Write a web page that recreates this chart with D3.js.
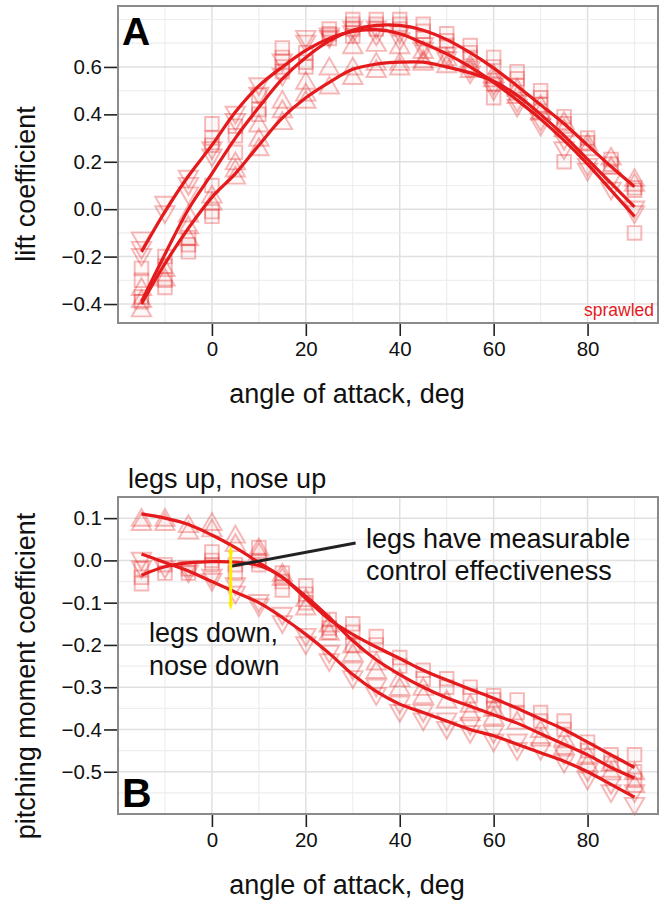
<!DOCTYPE html>
<html>
<head>
<meta charset="utf-8">
<script src="https://cdn.jsdelivr.net/npm/d3@7"></script>
<style>
  html, body { margin: 0; padding: 0; background: #fff; }
  svg { display: block; font-family: "Liberation Sans", Arial, Helvetica, sans-serif; }
</style>
</head>
<body>
<svg id="chart" width="662" height="901"></svg>
<script>
// ---------------- DATA ----------------
const aoa = [-15,-10,-5,0,5,10,15,20,25,30,35,40,45,50,55,60,65,70,75,80,85,90];
const xTicks = [0,20,40,60,80];
const liftTicks = [-0.4,-0.2,0.0,0.2,0.4,0.6];
const pitchTicks = [-0.5,-0.4,-0.3,-0.2,-0.1,0.0,0.1];

// Panel A — lift coefficient, replicate points per angle
const liftSquares = [
  [-0.25,-0.30,-0.37,-0.39],[-0.20,-0.24,-0.30,-0.33],[-0.12,-0.15,-0.18],[0.36,0.30,0.27,0.10,-0.01,-0.03],
  [0.35,0.31,0.24],[0.48,0.42,0.40],[0.68,0.64,0.60,0.58],[0.66,0.62,0.60],[0.76,0.74,0.72],
  [0.80,0.78,0.76,0.73],[0.80,0.78,0.76],[0.80,0.78,0.76],[0.78,0.75,0.72],[0.74,0.71,0.69],
  [0.69,0.66,0.64],[0.64,0.60,0.53,0.47],[0.58,0.55,0.52],[0.50,0.47,0.44],[0.39,0.36,0.20],
  [0.30,0.28],[0.21,0.19],[0.09,0.08,-0.10]
];
const liftDown = [
  [-0.13,-0.17,-0.20],[0.02,-0.02],[0.13,0.10,0.06],[0.25,0.22],[0.40,0.37],[0.52,0.48],[0.62,0.56],
  [0.72,0.70],[0.73,0.72],[0.76,0.74],[0.76,0.73],[0.74,0.71],[0.69,0.67],[0.65,0.63],[0.59,0.57],
  [0.52,0.50],[0.45,0.43],[0.37,0.35],[0.29,0.25],[0.18,0.16],[0.12,0.08],[0.00,-0.02]
];
const liftUp = [
  [-0.33,-0.38,-0.42],[-0.25,-0.29],[-0.02,-0.07,-0.12],[0.06,0.03],[0.20,0.17,0.14],[0.36,0.30,0.26],
  [0.46,0.42,0.37],[0.54,0.49,0.46],[0.60,0.52],[0.69,0.60,0.56],[0.70,0.62,0.59],[0.69,0.62,0.60],
  [0.67,0.63,0.62],[0.64,0.61],[0.61,0.59],[0.57,0.55],[0.51,0.48],[0.44,0.41],[0.37,0.34],
  [0.28,0.26],[0.22,0.18],[0.13,0.11]
];
// Panel A fitted curves
const liftFitSquares = [-0.39,-0.19,0.00,0.15,0.30,0.43,0.55,0.64,0.71,0.755,0.775,0.775,0.755,0.715,0.66,0.595,0.52,0.44,0.36,0.27,0.18,0.095];
const liftFitDown    = [-0.18,-0.01,0.14,0.27,0.41,0.52,0.60,0.67,0.72,0.75,0.757,0.74,0.70,0.655,0.60,0.535,0.46,0.38,0.29,0.19,0.08,-0.03];
const liftFitUp      = [-0.40,-0.23,-0.08,0.05,0.15,0.27,0.385,0.47,0.535,0.59,0.612,0.62,0.62,0.60,0.575,0.54,0.48,0.40,0.31,0.21,0.11,0.01];

// Panel B — pitching moment coefficient
const pitchSquares = [
  [-0.02,-0.04,-0.055],[-0.01,-0.03],[-0.02,-0.03],[0.02,0.00,-0.01],[-0.01,-0.03],[0.03,0.00,-0.01],
  [-0.03,-0.05,-0.07],[-0.06,-0.08,-0.10],[-0.14,-0.16,-0.17],[-0.15,-0.17,-0.20],[-0.18,-0.20],
  [-0.23,-0.25],[-0.26,-0.28],[-0.28,-0.30],[-0.30,-0.32],[-0.32,-0.33,-0.35],[-0.33,-0.36],
  [-0.36,-0.38],[-0.38,-0.40],[-0.43,-0.45],[-0.46,-0.48],[-0.46,-0.50,-0.52]
];
const pitchDown = [
  [0.00,-0.02],[-0.02],[-0.02,-0.03],[-0.04,-0.05],[-0.06,-0.08],[-0.10,-0.11],[-0.13,-0.15],
  [-0.18,-0.20],[-0.22,-0.24],[-0.26,-0.28],[-0.30,-0.32],[-0.34,-0.36],[-0.36,-0.38],[-0.38,-0.40],
  [-0.39,-0.41],[-0.41,-0.43],[-0.43,-0.45],[-0.45],[-0.46,-0.48],[-0.50,-0.52],[-0.53,-0.55],[-0.55,-0.58]
];
const pitchUp = [
  [0.10,0.09],[0.10,0.09],[0.085,0.07],[0.09,0.075],[0.06,0.04],[0.03,0.02],[-0.03,-0.04],
  [-0.09,-0.11],[-0.15,-0.17],[-0.20,-0.22],[-0.24,-0.26],[-0.28,-0.30],[-0.30,-0.32],[-0.33],
  [-0.34,-0.36],[-0.35,-0.37],[-0.38],[-0.40,-0.42],[-0.42,-0.44],[-0.46,-0.48],[-0.48,-0.50],[-0.50,-0.53]
];
const pitchFitSquares = [-0.035,-0.015,-0.006,-0.003,-0.004,-0.012,-0.04,-0.09,-0.14,-0.175,-0.205,-0.232,-0.26,-0.283,-0.305,-0.326,-0.35,-0.375,-0.40,-0.43,-0.46,-0.49];
const pitchFitUp      = [0.11,0.10,0.085,0.06,0.03,-0.005,-0.04,-0.085,-0.135,-0.19,-0.235,-0.27,-0.30,-0.325,-0.345,-0.365,-0.385,-0.41,-0.435,-0.46,-0.49,-0.515];
const pitchFitDown    = [0.015,-0.005,-0.025,-0.05,-0.075,-0.10,-0.135,-0.175,-0.22,-0.27,-0.31,-0.34,-0.36,-0.38,-0.40,-0.415,-0.435,-0.455,-0.475,-0.50,-0.53,-0.56];

// Annotation anchors (data coordinates of panel B)
const yellowMark = {x: 4, y0: 0.036, y1: -0.118};
const pointerLine = {x0: 4, y0: -0.014, x1: 30.6, y1: 0.041};

// ---------------- DRAWING ----------------
const svg = d3.select("#chart");
const RED = "#e41a1c";
const panelLeft = 118, panelRight = 658;
const TICK_FS = 20.5, TITLE_FS = 27, ANN_FS = 27;

const x = d3.scaleLinear().domain([-20, 95]).range([panelLeft, panelRight]);

function panel(cfg) {
  const g = svg.append("g");
  const y = d3.scaleLinear().domain(cfg.yDomain).range([cfg.bottom, cfg.top]);

  // grid (minor then major)
  const xMinor = d3.range(-20, 96, 10).filter(v => v % 20 !== 0);
  const xMajor = d3.range(-20, 96, 20);
  const yGrid = d3.range(Math.ceil(cfg.yDomain[0] / cfg.minorStep) * cfg.minorStep, cfg.yDomain[1] + 1e-9, cfg.minorStep);
  const isMajorY = d => cfg.yTicks.some(t => Math.abs(t - d) < 1e-6);
  g.selectAll(".gx").data(xMinor.concat(xMajor)).enter().append("line")
    .attr("x1", d => x(d)).attr("x2", d => x(d)).attr("y1", cfg.top).attr("y2", cfg.bottom)
    .attr("stroke", d => xMajor.includes(d) ? "#e0e0e0" : "#eeeeee").attr("stroke-width", d => xMajor.includes(d) ? 1.5 : 1.2);
  g.selectAll(".gy").data(yGrid).enter().append("line")
    .attr("x1", panelLeft).attr("x2", panelRight).attr("y1", d => y(d)).attr("y2", d => y(d))
    .attr("stroke", d => isMajorY(d) ? "#e0e0e0" : "#eeeeee")
    .attr("stroke-width", d => isMajorY(d) ? 1.5 : 1.2);

  // points
  const shapes = [
    {data: cfg.squares, type: d3.symbolSquare, size: 185, rot: 0, dy: 0},
    {data: cfg.up, type: d3.symbolTriangle, size: 165, rot: 0, dy: 2},
    {data: cfg.down, type: d3.symbolTriangle, size: 165, rot: 180, dy: -2}
  ];
  shapes.forEach(s => {
    const pts = [];
    s.data.forEach((vals, i) => vals.forEach(v => pts.push([aoa[i], v])));
    g.selectAll(null).data(pts).enter().append("path")
      .attr("d", d3.symbol().type(s.type).size(s.size))
      .attr("transform", d => `translate(${x(d[0])},${y(d[1]) + s.dy}) rotate(${s.rot})`)
      .attr("fill", RED).attr("fill-opacity", 0.03)
      .attr("stroke", RED).attr("stroke-opacity", 0.3).attr("stroke-width", 1.9);
  });

  // fitted curves
  const line = d3.line().x((d, i) => x(aoa[i])).y(d => y(d)).curve(d3.curveCatmullRom.alpha(0.5));
  cfg.fits.forEach(f => {
    g.append("path").attr("d", line(f)).attr("fill", "none").attr("stroke", RED).attr("stroke-width", 3.2);
  });

  // border
  g.append("rect").attr("x", panelLeft).attr("y", cfg.top).attr("width", panelRight - panelLeft).attr("height", cfg.bottom - cfg.top)
    .attr("fill", "none").attr("stroke", "#8a8a8a").attr("stroke-width", 2);

  // axes
  const yAxis = d3.axisLeft(y).tickValues(cfg.yTicks).tickFormat(cfg.fmt).tickSize(13).tickPadding(2);
  const ya = g.append("g").attr("transform", `translate(${panelLeft - 1},0)`).call(yAxis);
  ya.select(".domain").remove();
  ya.selectAll("line").attr("stroke", "#222").attr("stroke-width", 1.6);
  ya.selectAll("text").attr("font-size", TICK_FS).attr("fill", "#111").attr("font-family", "Liberation Sans, Arial, sans-serif");

  const xAxis = d3.axisBottom(x).tickValues(xTicks).tickFormat(d3.format("d")).tickSize(12).tickPadding(5);
  const xa = g.append("g").attr("transform", `translate(0,${cfg.bottom + 1})`).call(xAxis);
  xa.select(".domain").remove();
  xa.selectAll("line").attr("stroke", "#222").attr("stroke-width", 1.6);
  xa.selectAll("text").attr("font-size", TICK_FS).attr("fill", "#111").attr("font-family", "Liberation Sans, Arial, sans-serif");

  // axis titles
  g.append("text").attr("x", 347).attr("y", cfg.bottom + 80).attr("text-anchor", "middle")
    .attr("font-size", TITLE_FS).attr("fill", "#111").text("angle of attack, deg");
  g.append("text").attr("transform", `translate(35,${cfg.titleY}) rotate(-90)`)
    .attr("text-anchor", "middle").attr("font-size", TITLE_FS).attr("fill", "#111").text(cfg.yTitle);

  return {g, y};
}

const fmt = d => d3.format(".1f")(d).replace("-", "\u2212");

// Panel A
const A = panel({
  top: 6, bottom: 323, yDomain: [-0.48, 0.857], yTicks: liftTicks, minorStep: 0.1, fmt,
  squares: liftSquares, up: liftUp, down: liftDown, titleY: 184,
  fits: [liftFitSquares, liftFitDown, liftFitUp], yTitle: "lift coefficient"
});
A.g.append("text").attr("x", 122).attr("y", 45).attr("font-size", 39).attr("font-weight", "bold").attr("fill", "#000").text("A");
A.g.append("text").attr("x", 654).attr("y", 316).attr("text-anchor", "end").attr("font-size", 17.5).attr("fill", RED).text("sprawled");

// Panel B
const B = panel({
  top: 497, bottom: 814, yDomain: [-0.6, 0.15], yTicks: pitchTicks, minorStep: 0.05, fmt,
  squares: pitchSquares, up: pitchUp, down: pitchDown, titleY: 676,
  fits: [pitchFitSquares, pitchFitUp, pitchFitDown], yTitle: "pitching moment coefficient"
});
B.g.append("text").attr("x", 122).attr("y", 807).attr("font-size", 41).attr("font-weight", "bold").attr("fill", "#000").text("B");

// annotations in B
const yB = B.y;
B.g.append("line").attr("x1", x(pointerLine.x0)).attr("y1", yB(pointerLine.y0)).attr("x2", x(pointerLine.x1)).attr("y2", yB(pointerLine.y1))
  .attr("stroke", "#222").attr("stroke-width", 3);
const yx = x(yellowMark.x), yt = yB(yellowMark.y0), yb = yB(yellowMark.y1);
B.g.append("path")
  .attr("d", `M${yx},${yt} L${yx + 2.5},${yt + 8} L${yx + 1.5},${yt + 8} L${yx + 1.5},${yb - 8} L${yx + 2.5},${yb - 8} L${yx},${yb} L${yx - 2.5},${yb - 8} L${yx - 1.5},${yb - 8} L${yx - 1.5},${yt + 8} L${yx - 2.5},${yt + 8} Z`)
  .attr("fill", "#ffee00");

B.g.append("text").attr("x", 128).attr("y", 488).attr("font-size", ANN_FS).attr("fill", "#111").text("legs up, nose up");
B.g.append("text").attr("x", 366).attr("y", 548).attr("font-size", ANN_FS).attr("fill", "#111").text("legs have measurable");
B.g.append("text").attr("x", 366).attr("y", 580).attr("font-size", ANN_FS).attr("fill", "#111").text("control effectiveness");
B.g.append("text").attr("x", 149).attr("y", 642).attr("font-size", ANN_FS).attr("fill", "#111").text("legs down,");
B.g.append("text").attr("x", 149).attr("y", 675).attr("font-size", ANN_FS).attr("fill", "#111").text("nose down");
</script>
</body>
</html>
